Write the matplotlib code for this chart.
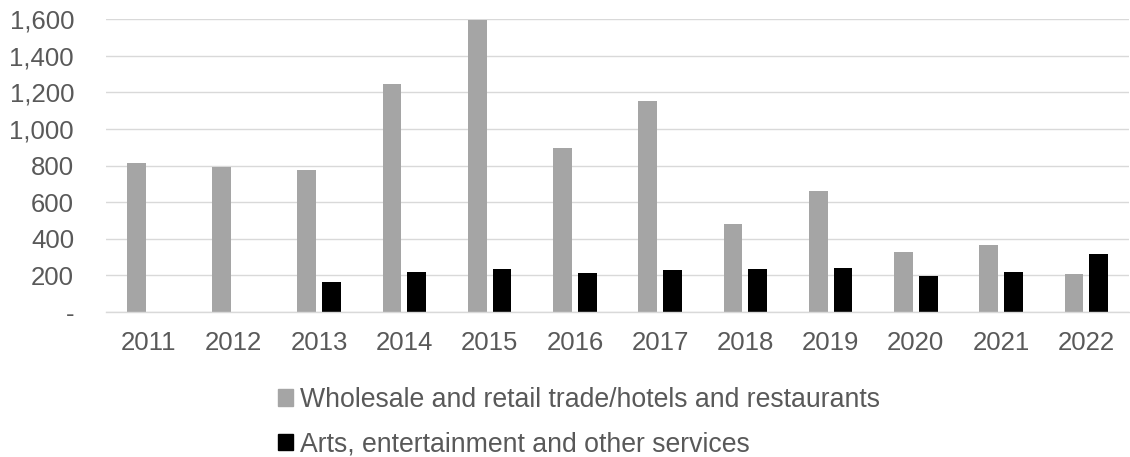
import numpy as np
import matplotlib
matplotlib.use('Agg')
import matplotlib.pyplot as plt
from matplotlib.patches import Patch
from matplotlib.ticker import FuncFormatter

# ====================================
# data
# ====================================
years = ['2011', '2012', '2013', '2014', '2015', '2016',
         '2017', '2018', '2019', '2020', '2021', '2022']
wholesale = [816, 792, 773, 1246, 1594, 896, 1151, 479, 660, 325, 364, 206]
arts = [0, 0, 164, 219, 235, 215, 228, 237, 240, 195, 217, 319]

label_wholesale = 'Wholesale and retail trade/hotels and restaurants'
label_arts = 'Arts, entertainment and other services'

# ====================================
# style
# ====================================
plt.rcParams['font.family'] = ['Liberation Sans', 'DejaVu Sans']
fsz = 18.5
lfsz = 19.2
txt_col = '#595959'
grid_col = '#d9d9d9'
gray = '#a5a5a5'

# ====================================
# plot
# ====================================
fig = plt.figure(figsize=(11.3, 4.57), dpi=100)
ax = fig.add_axes([106/1130, 1 - 312/457, 1023/1130, 293/457])

xx = np.arange(len(years))
bw = 0.22
ax.bar(xx - 0.145, wholesale, width=bw, color=gray, zorder=3)
ax.bar(xx + 0.145, arts, width=bw, color='black', zorder=3)

ax.set_xlim(-0.5, len(years) - 0.5)
ax.set_ylim(0, 1600)
ax.set_yticks(np.arange(0, 1601, 200))
ax.yaxis.set_major_formatter(FuncFormatter(lambda v, p: '-' if v == 0 else f'{int(v):,}'))
ax.set_xticks(xx)
ax.set_xticklabels(years)

ax.grid(axis='y', color=grid_col, linewidth=1.0, zorder=0)
for s in ['top', 'right', 'left']:
    ax.spines[s].set_visible(False)
ax.spines['bottom'].set_color(grid_col)
ax.spines['bottom'].set_linewidth(1.0)
ax.spines['bottom'].set_zorder(4)
ax.tick_params(axis='both', length=0, labelsize=fsz, labelcolor=txt_col)
ax.tick_params(axis='y', pad=23)
ax.tick_params(axis='x', pad=14)

handles = [Patch(color=gray, label=label_wholesale),
           Patch(color='black', label=label_arts)]
fig.legend(handles=handles, loc='center left', bbox_to_anchor=(265/1130, 1 - 422/457),
           frameon=False, fontsize=lfsz, labelcolor=txt_col, borderpad=0,
           handlelength=0.55, handleheight=0.55, handletextpad=0.25, labelspacing=0.68)

fig.savefig('out.png', dpi=100)
